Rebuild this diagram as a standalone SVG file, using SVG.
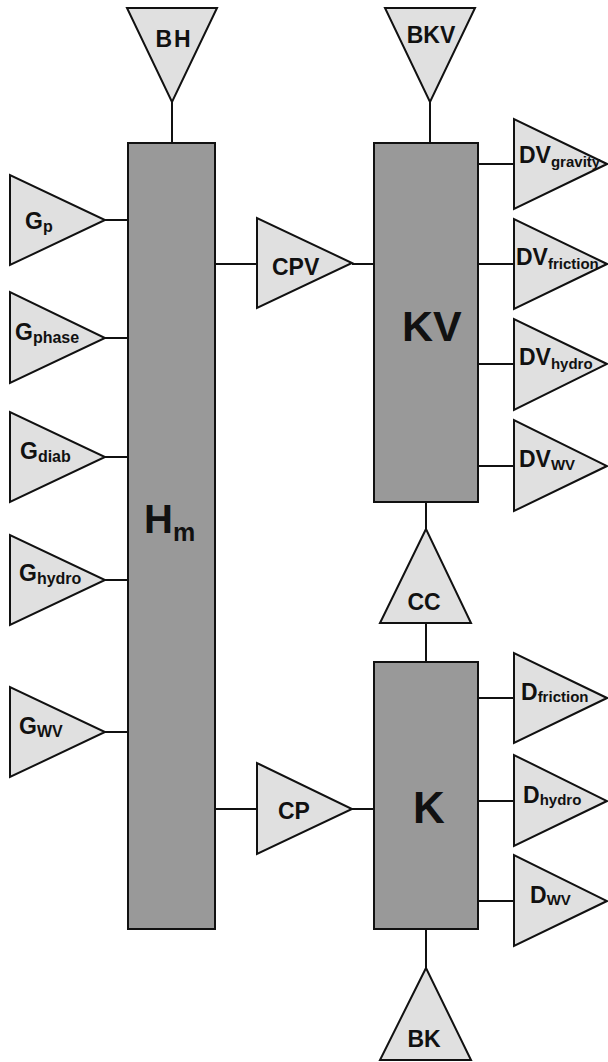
<svg xmlns="http://www.w3.org/2000/svg" width="608" height="1062" viewBox="0 0 608 1062">
<style>
.box{fill:#999999;stroke:#111;stroke-width:2}
.tri{fill:#e0e0e0;stroke:#111;stroke-width:2;stroke-linejoin:miter}
.con line{stroke:#111;stroke-width:2}
text{font-family:"Liberation Sans",Arial,sans-serif;font-weight:bold;fill:#111}
.lb{font-size:23px}
.sub{font-size:15px}
.gsub{font-size:16px}
</style>
<rect width="608" height="1062" fill="#fff"/>
<g class="con">
<line x1="172" y1="102" x2="172" y2="143"/>
<line x1="430" y1="102" x2="430" y2="143"/>
<line x1="105" y1="220" x2="128" y2="220"/>
<line x1="105" y1="338" x2="128" y2="338"/>
<line x1="105" y1="457" x2="128" y2="457"/>
<line x1="105" y1="580" x2="128" y2="580"/>
<line x1="105" y1="732" x2="128" y2="732"/>
<line x1="215" y1="264" x2="257" y2="264"/>
<line x1="352" y1="264" x2="374" y2="264"/>
<line x1="215" y1="809" x2="257" y2="809"/>
<line x1="352" y1="809" x2="374" y2="809"/>
<line x1="478" y1="164" x2="514" y2="164"/>
<line x1="478" y1="264" x2="514" y2="264"/>
<line x1="478" y1="364" x2="514" y2="364"/>
<line x1="478" y1="466" x2="514" y2="466"/>
<line x1="478" y1="698" x2="514" y2="698"/>
<line x1="478" y1="801" x2="514" y2="801"/>
<line x1="478" y1="901" x2="514" y2="901"/>
<line x1="426" y1="502" x2="426" y2="529"/>
<line x1="426" y1="623" x2="426" y2="662"/>
<line x1="426" y1="929" x2="426" y2="968"/>
</g>
<g id="Hm"><rect class="box" x="128" y="143" width="87" height="786"/><text x="144" y="533" font-size="40">H<tspan font-size="25" dy="8">m</tspan></text></g>
<g id="KV"><rect class="box" x="374" y="143" width="104" height="359"/><text x="402" y="341" font-size="43">KV</text></g>
<g id="K"><rect class="box" x="374" y="662" width="104" height="267"/><text x="413" y="823" font-size="44">K</text></g>
<g id="BH"><polygon class="tri" points="127,8 217,8 172,102"/><text class="lb" x="174" y="47" text-anchor="middle" letter-spacing="2">BH</text></g>
<g id="BKV"><polygon class="tri" points="385,8 475,8 430,102"/><text class="lb" x="431" y="43" text-anchor="middle">BKV</text></g>
<g id="Gp"><polygon class="tri" points="10,175 10,265 105,220"/><text class="lb" x="25" y="229">G<tspan class="gsub" dy="3">p</tspan></text></g>
<g id="Gphase"><polygon class="tri" points="10,292 10,383 105,338"/><text class="lb" x="15" y="340">G<tspan class="gsub" dy="3">phase</tspan></text></g>
<g id="Gdiab"><polygon class="tri" points="10,412 10,502 105,457"/><text class="lb" x="20" y="459">G<tspan class="gsub" dy="3">diab</tspan></text></g>
<g id="Ghydro"><polygon class="tri" points="10,535 10,625 105,580"/><text class="lb" x="19" y="581">G<tspan class="gsub" dy="3">hydro</tspan></text></g>
<g id="GWV"><polygon class="tri" points="10,687 10,777 105,732"/><text class="lb" x="19" y="734">G<tspan class="gsub" dy="3">WV</tspan></text></g>
<g id="CPV"><polygon class="tri" points="257,218 257,308 352,263"/><text class="lb" x="272" y="275">CPV</text></g>
<g id="CP"><polygon class="tri" points="257,763 257,854 352,809"/><text class="lb" x="278" y="819">CP</text></g>
<g id="CC"><polygon class="tri" points="426,529 380,623 471,623"/><text class="lb" x="424" y="610" text-anchor="middle">CC</text></g>
<g id="BK"><polygon class="tri" points="426,968 380,1060 471,1060"/><text class="lb" x="424" y="1047" text-anchor="middle">BK</text></g>
<g id="DVgravity"><polygon class="tri" points="514,119 514,209 607,164"/><text class="lb" x="519" y="163">DV<tspan class="sub" dy="4">gravity</tspan></text></g>
<g id="DVfriction"><polygon class="tri" points="514,219 514,309 607,264"/><text class="lb" x="516" y="265">DV<tspan class="sub" dy="4">friction</tspan></text></g>
<g id="DVhydro"><polygon class="tri" points="514,319 514,410 607,364"/><text class="lb" x="519" y="365">DV<tspan class="sub" dy="4">hydro</tspan></text></g>
<g id="DVWV"><polygon class="tri" points="514,420 514,511 607,466"/><text class="lb" x="519" y="467">DV<tspan class="sub" dy="3">WV</tspan></text></g>
<g id="Dfriction"><polygon class="tri" points="514,653 514,743 607,698"/><text class="lb" x="521" y="700">D<tspan class="sub" dy="2">friction</tspan></text></g>
<g id="Dhydro"><polygon class="tri" points="514,755 514,846 607,801"/><text class="lb" x="523" y="803">D<tspan class="sub" dy="2">hydro</tspan></text></g>
<g id="DWV"><polygon class="tri" points="514,855 514,946 607,901"/><text class="lb" x="530" y="903">D<tspan class="sub" dy="2">WV</tspan></text></g>
</svg>
